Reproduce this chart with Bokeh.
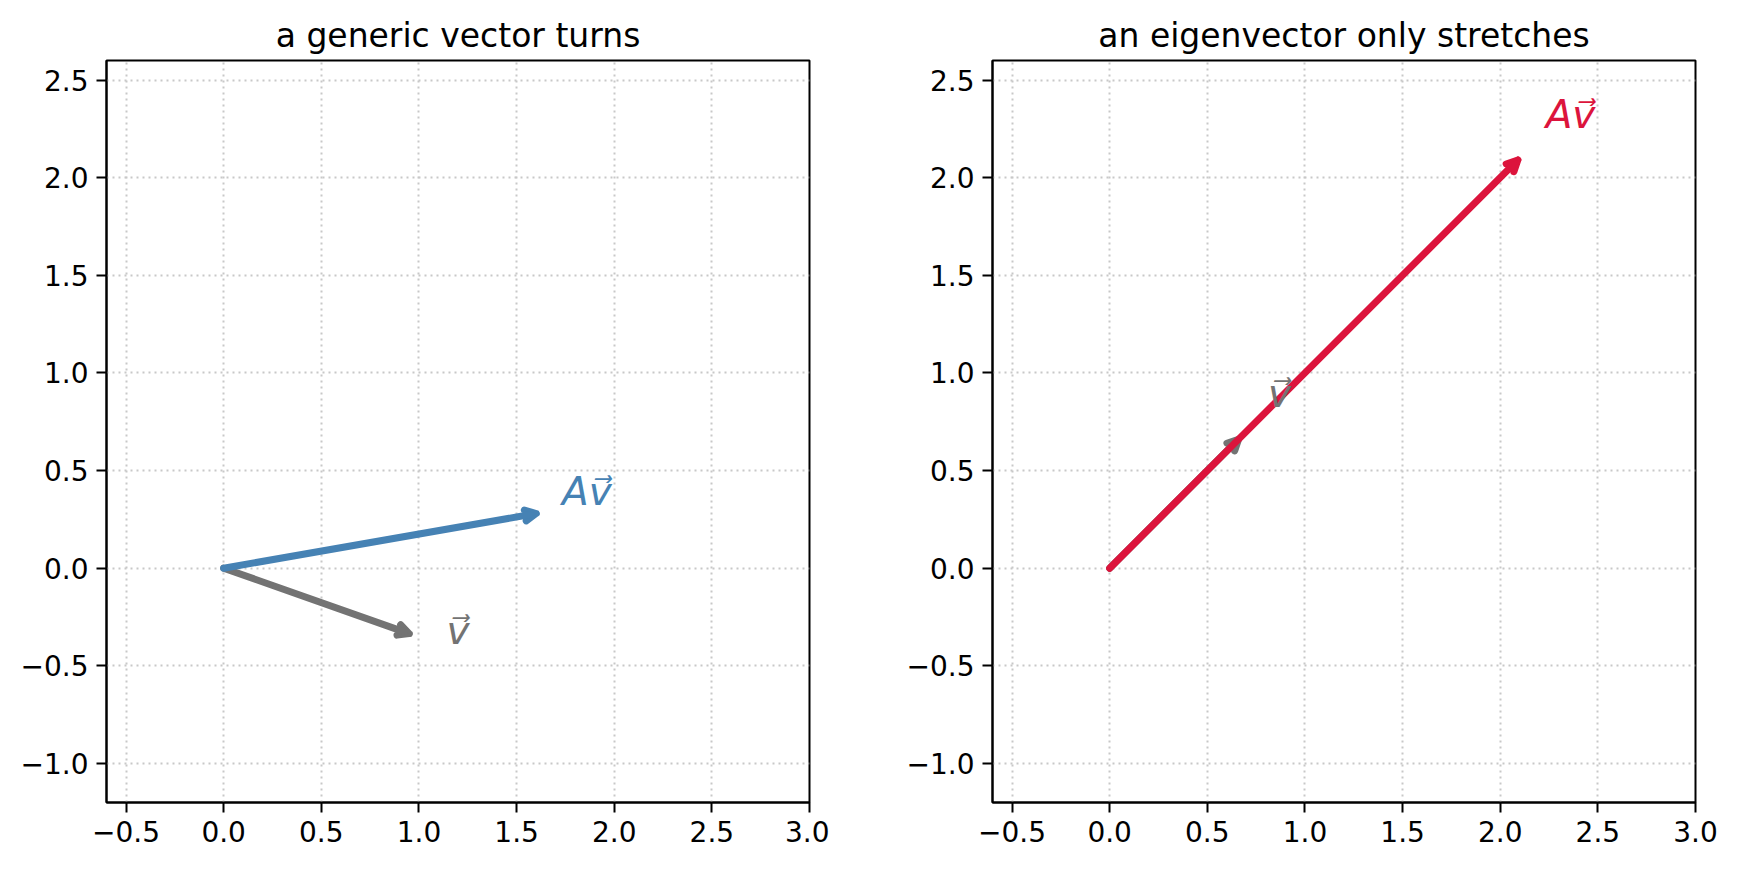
from bokeh.plotting import figure
from bokeh.models import Arrow, OpenHead, Label, FixedTicker, CustomJSTickFormatter, Range1d
from bokeh.layouts import row
from bokeh.embed import file_html
from bokeh.resources import INLINE

# panel titles
titles = ["a generic vector turns", "an eigenvector only stretches"]

# vectors (tip positions)
v_vecs = [(0.95, -0.335), (0.66, 0.66)]
av_vecs = [(1.60, 0.28), (2.09, 2.09)]
av_colors = ["#4682b4", "#dc143c"]
v_color = "#737373"

# label anchor positions (centre x, baseline y)
v_label_pos = [(1.20, -0.32), (0.87, 0.895)]
av_label_pos = [(1.86, 0.395), (2.36, 2.325)]

x_ticks = [-0.5, 0.0, 0.5, 1.0, 1.5, 2.0, 2.5, 3.0]
y_ticks = [-1.0, -0.5, 0.0, 0.5, 1.0, 1.5, 2.0, 2.5]

FONT = "DejaVu Sans"
fmt_code = "return tick.toFixed(1).replace('-', '\\u2212')"


def make_panel(i, left_border, right_border):
    p = figure(frame_width=703, frame_height=742,
               x_range=Range1d(-0.6, 3.0), y_range=Range1d(-1.2, 2.6),
               min_border_left=left_border, min_border_right=right_border,
               min_border_top=60, min_border_bottom=55,
               toolbar_location=None, output_backend="svg")
    p.title.text = titles[i]
    p.title.align = "center"
    p.title.text_font = FONT
    p.title.text_font_size = "33px"
    p.title.text_font_style = "normal"
    p.title.text_color = "black"
    p.title.standoff = 11

    p.outline_line_color = "black"
    p.outline_line_width = 2
    p.outline_line_alpha = 1

    p.xaxis.ticker = FixedTicker(ticks=x_ticks)
    p.yaxis.ticker = FixedTicker(ticks=y_ticks)
    for ax in (p.xaxis, p.yaxis):
        ax.formatter = CustomJSTickFormatter(code=fmt_code)
        ax.axis_line_width = 2
        ax.major_tick_line_width = 2
        ax.major_tick_out = 10
        ax.major_tick_in = 0
        ax.minor_tick_line_color = None
        ax.major_label_text_font = FONT
        ax.major_label_text_font_size = "28px"
        ax.major_label_text_color = "black"
        ax.major_label_standoff = 8

    p.grid.grid_line_color = "#c8c8c8"
    p.grid.grid_line_dash = "2 4"
    p.grid.grid_line_width = 2

    # v first, then Av on top
    vx, vy = v_vecs[i]
    p.add_layout(Arrow(x_start=0, y_start=0, x_end=vx, y_end=vy,
                       line_color=v_color, line_width=7, line_cap="round",
                       end=OpenHead(size=11, line_color=v_color, line_width=7,
                                    line_join="round", line_cap="round")))
    ax_, ay_ = av_vecs[i]
    c = av_colors[i]
    p.add_layout(Arrow(x_start=0, y_start=0, x_end=ax_, y_end=ay_,
                       line_color=c, line_width=7, line_cap="round",
                       end=OpenHead(size=11, line_color=c, line_width=7,
                                    line_join="round", line_cap="round")))

    lx, ly = v_label_pos[i]
    p.add_layout(Label(x=lx, y=ly, text="v\u20d7", text_align="center",
                       text_baseline="alphabetic", text_font=FONT,
                       text_font_style="italic", text_font_size="39px",
                       text_color=v_color))
    lx, ly = av_label_pos[i]
    p.add_layout(Label(x=lx, y=ly, text="Av\u20d7", text_align="center",
                       text_baseline="alphabetic", text_font=FONT,
                       text_font_style="italic", text_font_size="39px",
                       text_color=c))
    return p


p1 = make_panel(0, 106, 20)
p2 = make_panel(1, 163, 25)

layout = row(p1, p2)
open("out.html", "w").write(file_html(layout, INLINE))
